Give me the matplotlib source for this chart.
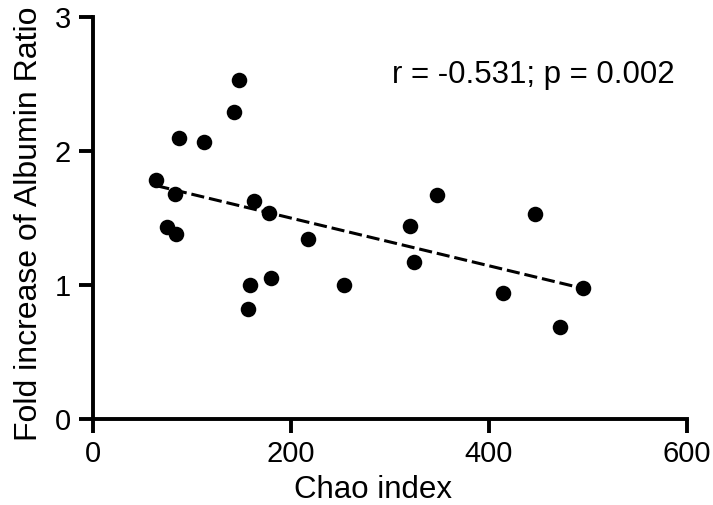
import numpy as np
import matplotlib
matplotlib.use('Agg')
import matplotlib.pyplot as plt

plt.rcParams['font.family'] = ['Liberation Sans', 'DejaVu Sans']

# Chao index vs fold increase of albumin ratio
chao = [64, 75, 83, 84, 87, 112, 142, 147, 163, 178, 217, 159, 180, 157, 254,
        320, 324, 348, 414, 446, 472, 495]
fold = [1.78, 1.43, 1.68, 1.38, 2.10, 2.07, 2.29, 2.53, 1.63, 1.54, 1.34, 1.00,
        1.05, 0.82, 1.00, 1.44, 1.17, 1.67, 0.94, 1.53, 0.69, 0.98]

x_ticks = [0, 200, 400, 600]
y_ticks = [0, 1, 2, 3]
stats_text = 'r = -0.531; p = 0.002'

fig = plt.figure(figsize=(7.13, 5.05), dpi=100)
ax = fig.add_axes([0.1304, 0.1703, 0.8331, 0.796])

ax.scatter(chao, fold, s=125, color='black', zorder=3, linewidths=0)

# linear regression line
slope, inter = np.polyfit(chao, fold, 1)
xs = np.array([min(chao), max(chao)])
ax.plot(xs, slope * xs + inter, color='black', lw=2.2, dashes=(4.3, 1.6), zorder=2)

ax.text(302, 2.57, stats_text, fontsize=22.5, ha='left', va='center')

ax.set_xlim(0, 600)
ax.set_ylim(0, 3)
ax.set_xticks(x_ticks)
ax.set_yticks(y_ticks)
ax.tick_params(labelsize=21, width=2.8, length=10, direction='out')
ax.tick_params(axis='x', pad=5)
ax.tick_params(axis='y', pad=6)
for s in ['top', 'right']:
    ax.spines[s].set_visible(False)
for s in ['left', 'bottom']:
    ax.spines[s].set_linewidth(2.8)

ax.set_xlabel('Chao index', fontsize=22.5, labelpad=5)
ax.xaxis.label.set_x(0.471)
ax.set_ylabel('Fold increase of Albumin Ratio', fontsize=23)
ax.yaxis.set_label_coords(-0.083, 0.485)

fig.savefig('out.png', dpi=100)
